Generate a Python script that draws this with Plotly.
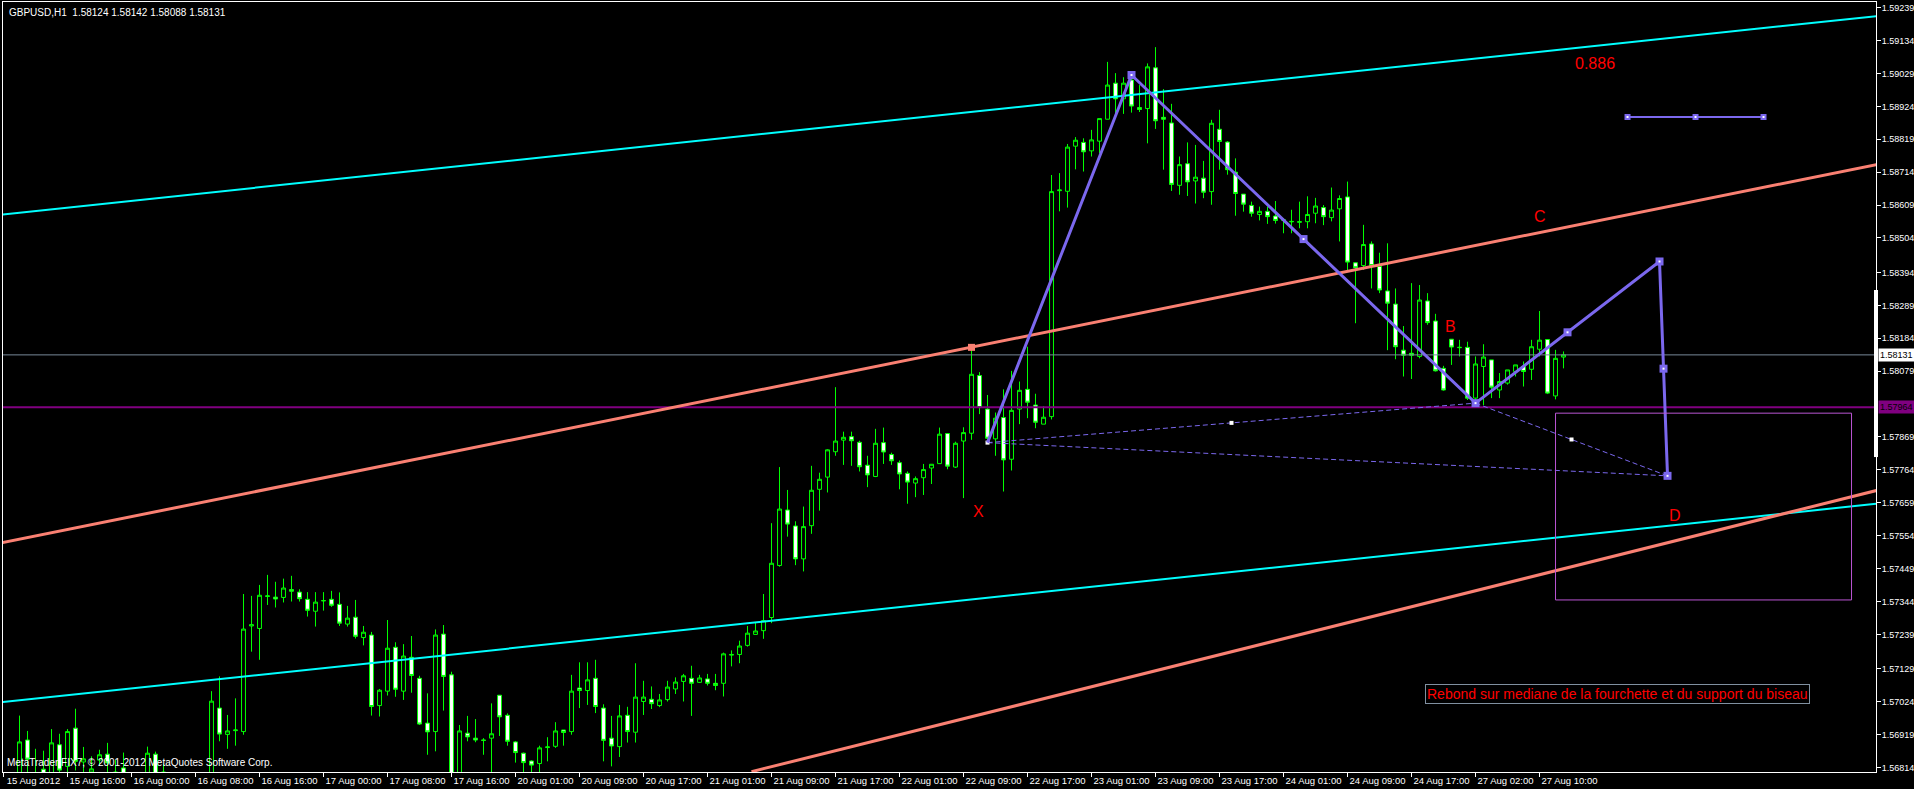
import plotly.graph_objects as go

# ---------------- data ----------------
chart_title = "GBPUSD,H1  1.58124 1.58142 1.58088 1.58131"
copyright_text = "MetaTrader FIX7, © 2001-2012 MetaQuotes Software Corp."
note_text = "Rebond sur mediane de la fourchette et du support du biseau"

ohlc_rows = [
    # open, high, low, close  (one row per H1 bar, index 0 = 15 Aug 2012 08:00)
    (1.56770, 1.56790, 1.56740, 1.56780), (1.56780, 1.56795, 1.56750, 1.56775),
    (1.56780, 1.56980, 1.56760, 1.56896), (1.56902, 1.56931, 1.56790, 1.56841),
    (1.56790, 1.56874, 1.56760, 1.56780), (1.56809, 1.56868, 1.56770, 1.56790),
    (1.56790, 1.56937, 1.56770, 1.56893), (1.56887, 1.56922, 1.56790, 1.56806),
    (1.56818, 1.56937, 1.56790, 1.56929), (1.56940, 1.57002, 1.56805, 1.56834),
    (1.56832, 1.56880, 1.56800, 1.56842), (1.56800, 1.56850, 1.56780, 1.56810),
    (1.56838, 1.56871, 1.56820, 1.56855), (1.56857, 1.56893, 1.56800, 1.56829),
    (1.56800, 1.56839, 1.56770, 1.56790), (1.56813, 1.56862, 1.56770, 1.56790),
    (1.56770, 1.56795, 1.56750, 1.56780), (1.56780, 1.56795, 1.56740, 1.56760),
    (1.56790, 1.56881, 1.56770, 1.56860), (1.56857, 1.56865, 1.56770, 1.56790),
    (1.56800, 1.56826, 1.56770, 1.56790), (1.56780, 1.56795, 1.56740, 1.56760),
    (1.56760, 1.56790, 1.56730, 1.56750), (1.56750, 1.56785, 1.56720, 1.56770),
    (1.56770, 1.56790, 1.56740, 1.56760), (1.56760, 1.56795, 1.56740, 1.56785),
    (1.56790, 1.57058, 1.56770, 1.57026), (1.57004, 1.57105, 1.56898, 1.56921),
    (1.56920, 1.56982, 1.56874, 1.56931), (1.56932, 1.57035, 1.56884, 1.56934),
    (1.56929, 1.57368, 1.56919, 1.57256), (1.57266, 1.57362, 1.57184, 1.57270),
    (1.57258, 1.57397, 1.57158, 1.57364), (1.57360, 1.57429, 1.57333, 1.57362),
    (1.57358, 1.57407, 1.57325, 1.57352), (1.57357, 1.57417, 1.57341, 1.57387),
    (1.57382, 1.57426, 1.57344, 1.57377), (1.57374, 1.57383, 1.57344, 1.57353),
    (1.57351, 1.57374, 1.57296, 1.57316), (1.57313, 1.57374, 1.57264, 1.57342),
    (1.57346, 1.57374, 1.57315, 1.57347), (1.57351, 1.57378, 1.57327, 1.57332),
    (1.57335, 1.57373, 1.57266, 1.57275), (1.57272, 1.57330, 1.57264, 1.57291),
    (1.57294, 1.57349, 1.57226, 1.57233), (1.57229, 1.57266, 1.57204, 1.57246),
    (1.57237, 1.57247, 1.56980, 1.57009), (1.57012, 1.57065, 1.56977, 1.57061),
    (1.57058, 1.57285, 1.57044, 1.57195), (1.57198, 1.57214, 1.57040, 1.57064),
    (1.57058, 1.57208, 1.57030, 1.57170), (1.57166, 1.57234, 1.57053, 1.57108),
    (1.57099, 1.57107, 1.56950, 1.56953), (1.56956, 1.57051, 1.56855, 1.56928),
    (1.56929, 1.57255, 1.56866, 1.57237), (1.57240, 1.57269, 1.56996, 1.57105),
    (1.57110, 1.57120, 1.56770, 1.56790), (1.56790, 1.56950, 1.56770, 1.56931),
    (1.56924, 1.56979, 1.56898, 1.56912), (1.56908, 1.56969, 1.56895, 1.56902),
    (1.56902, 1.56908, 1.56855, 1.56901), (1.56908, 1.57019, 1.56790, 1.56922),
    (1.57045, 1.57045, 1.56915, 1.56976), (1.56981, 1.56987, 1.56884, 1.56898),
    (1.56896, 1.56899, 1.56830, 1.56862), (1.56860, 1.56862, 1.56790, 1.56830),
    (1.56835, 1.56837, 1.56790, 1.56822), (1.56827, 1.56884, 1.56790, 1.56877),
    (1.56878, 1.56911, 1.56834, 1.56880), (1.56882, 1.56959, 1.56877, 1.56931),
    (1.56934, 1.56934, 1.56884, 1.56926), (1.56929, 1.57110, 1.56919, 1.57058),
    (1.57068, 1.57150, 1.57004, 1.57060), (1.57060, 1.57150, 1.57014, 1.57094),
    (1.57099, 1.57158, 1.56988, 1.57009), (1.57004, 1.57016, 1.56834, 1.56901),
    (1.56908, 1.56979, 1.56818, 1.56883), (1.56881, 1.57014, 1.56848, 1.56979),
    (1.56981, 1.57008, 1.56894, 1.56929), (1.56927, 1.57147, 1.56894, 1.57039),
    (1.57025, 1.57091, 1.56982, 1.57039), (1.57032, 1.57073, 1.57001, 1.57018),
    (1.57012, 1.57049, 1.57007, 1.57030), (1.57031, 1.57091, 1.57025, 1.57071),
    (1.57065, 1.57102, 1.57049, 1.57087), (1.57089, 1.57113, 1.57025, 1.57107),
    (1.57099, 1.57139, 1.56979, 1.57083), (1.57086, 1.57110, 1.57084, 1.57100),
    (1.57097, 1.57113, 1.57076, 1.57083), (1.57083, 1.57113, 1.57061, 1.57076),
    (1.57083, 1.57181, 1.57041, 1.57177), (1.57173, 1.57188, 1.57137, 1.57175),
    (1.57175, 1.57219, 1.57147, 1.57202), (1.57204, 1.57266, 1.57200, 1.57243),
    (1.57239, 1.57277, 1.57239, 1.57250), (1.57251, 1.57368, 1.57225, 1.57283),
    (1.57293, 1.57594, 1.57275, 1.57466), (1.57459, 1.57773, 1.57455, 1.57639),
    (1.57636, 1.57700, 1.57551, 1.57591), (1.57585, 1.57600, 1.57460, 1.57480),
    (1.57480, 1.57647, 1.57440, 1.57583), (1.57586, 1.57777, 1.57560, 1.57699),
    (1.57702, 1.57755, 1.57634, 1.57734), (1.57741, 1.57830, 1.57692, 1.57828),
    (1.57822, 1.58028, 1.57809, 1.57856), (1.57859, 1.57886, 1.57780, 1.57868),
    (1.57870, 1.57886, 1.57777, 1.57857), (1.57852, 1.57857, 1.57759, 1.57774),
    (1.57779, 1.57809, 1.57709, 1.57748), (1.57743, 1.57895, 1.57741, 1.57849),
    (1.57851, 1.57899, 1.57783, 1.57821), (1.57813, 1.57819, 1.57780, 1.57793),
    (1.57787, 1.57794, 1.57702, 1.57751), (1.57753, 1.57759, 1.57656, 1.57725),
    (1.57722, 1.57743, 1.57677, 1.57736), (1.57739, 1.57783, 1.57684, 1.57765),
    (1.57770, 1.57782, 1.57719, 1.57782), (1.57784, 1.57899, 1.57784, 1.57878),
    (1.57880, 1.57880, 1.57766, 1.57776), (1.57773, 1.57854, 1.57770, 1.57849),
    (1.57856, 1.57900, 1.57674, 1.57883), (1.57881, 1.58155, 1.57860, 1.58069),
    (1.58065, 1.58076, 1.57942, 1.57963), (1.57958, 1.58003, 1.57851, 1.57865),
    (1.57863, 1.57947, 1.57809, 1.57929), (1.57931, 1.58021, 1.57695, 1.57796),
    (1.57798, 1.58080, 1.57762, 1.57954), (1.57958, 1.58046, 1.57910, 1.58018),
    (1.58021, 1.58157, 1.57929, 1.57980), (1.57971, 1.58007, 1.57897, 1.57916),
    (1.57910, 1.57967, 1.57910, 1.57932), (1.57934, 1.58705, 1.57925, 1.58652),
    (1.58655, 1.58711, 1.58589, 1.58657), (1.58653, 1.58804, 1.58601, 1.58794),
    (1.58797, 1.58826, 1.58723, 1.58816), (1.58809, 1.58822, 1.58716, 1.58779),
    (1.58782, 1.58849, 1.58764, 1.58817), (1.58813, 1.58885, 1.58775, 1.58885),
    (1.58883, 1.59066, 1.58883, 1.58992), (1.58998, 1.59030, 1.58897, 1.58948),
    (1.58948, 1.59017, 1.58900, 1.58998), (1.59008, 1.59030, 1.58904, 1.58925),
    (1.58920, 1.58992, 1.58906, 1.58914), (1.58917, 1.59061, 1.58806, 1.59050),
    (1.59047, 1.59113, 1.58852, 1.58878), (1.58889, 1.58979, 1.58722, 1.58883),
    (1.58871, 1.58932, 1.58654, 1.58675), (1.58672, 1.58764, 1.58642, 1.58738),
    (1.58741, 1.58809, 1.58638, 1.58683), (1.58686, 1.58801, 1.58614, 1.58698),
    (1.58695, 1.58750, 1.58631, 1.58650), (1.58652, 1.58881, 1.58610, 1.58870),
    (1.58851, 1.58913, 1.58722, 1.58812), (1.58810, 1.58813, 1.58706, 1.58722),
    (1.58714, 1.58758, 1.58575, 1.58646), (1.58644, 1.58644, 1.58588, 1.58612),
    (1.58608, 1.58620, 1.58572, 1.58583), (1.58579, 1.58604, 1.58560, 1.58589),
    (1.58589, 1.58604, 1.58549, 1.58572), (1.58574, 1.58622, 1.58550, 1.58560),
    (1.58562, 1.58567, 1.58519, 1.58561), (1.58557, 1.58594, 1.58519, 1.58556),
    (1.58554, 1.58620, 1.58535, 1.58556), (1.58556, 1.58637, 1.58535, 1.58579),
    (1.58583, 1.58632, 1.58551, 1.58606), (1.58601, 1.58609, 1.58545, 1.58572),
    (1.58569, 1.58665, 1.58557, 1.58593), (1.58597, 1.58640, 1.58493, 1.58630),
    (1.58635, 1.58684, 1.58398, 1.58427), (1.58425, 1.58427, 1.58232, 1.58409),
    (1.58416, 1.58546, 1.58402, 1.58483), (1.58485, 1.58493, 1.58343, 1.58416),
    (1.58413, 1.58457, 1.58328, 1.58338), (1.58335, 1.58487, 1.58146, 1.58296),
    (1.58293, 1.58343, 1.58117, 1.58157), (1.58146, 1.58223, 1.58062, 1.58130),
    (1.58136, 1.58360, 1.58054, 1.58130), (1.58126, 1.58354, 1.58120, 1.58306),
    (1.58303, 1.58328, 1.58227, 1.58234), (1.58239, 1.58262, 1.58078, 1.58080),
    (1.58088, 1.58096, 1.58017, 1.58019), (1.58181, 1.58181, 1.58099, 1.58156),
    (1.58154, 1.58179, 1.58126, 1.58155), (1.58155, 1.58173, 1.57987, 1.57993),
    (1.57993, 1.58126, 1.57977, 1.58102), (1.58094, 1.58165, 1.57971, 1.58124),
    (1.58115, 1.58115, 1.57993, 1.58028), (1.58019, 1.58073, 1.57993, 1.58046),
    (1.58041, 1.58083, 1.58036, 1.58083), (1.58078, 1.58099, 1.58062, 1.58099),
    (1.58094, 1.58110, 1.58030, 1.58078), (1.58085, 1.58179, 1.58051, 1.58157),
    (1.58149, 1.58271, 1.58126, 1.58178), (1.58180, 1.58180, 1.58006, 1.58009),
    (1.58000, 1.58147, 1.57989, 1.58120), (1.58124, 1.58142, 1.58088, 1.58131),
]
bar_index = list(range(len(ohlc_rows)))
bar_open = [r[0] for r in ohlc_rows]
bar_high = [r[1] for r in ohlc_rows]
bar_low = [r[2] for r in ohlc_rows]
bar_close = [r[3] for r in ohlc_rows]

time_tick_index = list(range(0, 193, 8))
time_tick_labels = [
    "15 Aug 2012", "15 Aug 16:00", "16 Aug 00:00", "16 Aug 08:00", "16 Aug 16:00",
    "17 Aug 00:00", "17 Aug 08:00", "17 Aug 16:00", "20 Aug 01:00", "20 Aug 09:00",
    "20 Aug 17:00", "21 Aug 01:00", "21 Aug 09:00", "21 Aug 17:00", "22 Aug 01:00",
    "22 Aug 09:00", "22 Aug 17:00", "23 Aug 01:00", "23 Aug 09:00", "23 Aug 17:00",
    "24 Aug 01:00", "24 Aug 09:00", "24 Aug 17:00", "27 Aug 02:00", "27 Aug 10:00",
]
price_tick_values = [
    1.59239, 1.59134, 1.59029, 1.58924, 1.58819, 1.58714, 1.58609, 1.58504,
    1.58394, 1.58289, 1.58184, 1.58079, 1.57869, 1.57764, 1.57659, 1.57554,
    1.57449, 1.57344, 1.57239, 1.57129, 1.57024, 1.56919, 1.56814,
]
price_range = [1.56800, 1.59257]
index_range = [-0.0625, 234.06]

# channel / pitchfork lines: (bar index, price) at both chart edges
cyan_upper_line = [(-0.5, 1.58578), (234.1, 1.59212)]
cyan_lower_line = [(-0.5, 1.57022), (234.1, 1.57656)]
salmon_upper_line = [(-0.5, 1.57530), (234.1, 1.58738)]
salmon_lower_line = [(93.5, 1.56801), (234.1, 1.57698)]
salmon_anchor = (121, 1.58155)

bid_price = 1.58131
level_price = 1.57964

# XABCD harmonic pattern points
pattern_names = ["X", "A", "B", "C", "D"]
pattern_index = [123, 141, 184, 207, 208]
pattern_price = [1.57851, 1.59024, 1.57977, 1.58429, 1.57745]

fib_level_index = [203, 211.5, 220]
fib_level_price = [1.58890, 1.58890, 1.58890]

target_box_index = [194, 231]
target_box_price = [1.57349, 1.57945]

# text labels: (text, bar index, price)
red_labels = [("X", 121.9, 1.57630), ("B", 180.9, 1.58223), ("C", 192.0, 1.58572),
              ("D", 208.9, 1.57620), ("0.886", 198.9, 1.59060)]
note_position = (177.7, 1.57048)
scroll_marker_prices = [1.57805, 1.58338]

# ---------------- figure ----------------
PURPLE = "#7B68EE"
FONT = "Liberation Sans, Arial, sans-serif"
AXIS_FONT_SIZE = 9
fig = go.Figure()

fig.add_trace(go.Candlestick(
    x=bar_index, open=bar_open, high=bar_high, low=bar_low, close=bar_close,
    increasing=dict(fillcolor="#000000", line=dict(color="#00FF00", width=1)),
    decreasing=dict(fillcolor="#FFFFFF", line=dict(color="#00FF00", width=1)),
    whiskerwidth=0, showlegend=False, hoverinfo="skip",
))

def seg(points, color, width, dash="solid"):
    fig.add_trace(go.Scatter(x=[p[0] for p in points], y=[p[1] for p in points],
                             mode="lines", line=dict(color=color, width=width, dash=dash),
                             showlegend=False, hoverinfo="skip", cliponaxis=True))

# horizontal lines
fig.add_trace(go.Scatter(x=[index_range[0], index_range[1]], y=[bid_price, bid_price], mode="lines",
                         line=dict(color="#778899", width=1), showlegend=False, hoverinfo="skip"))
fig.add_trace(go.Scatter(x=[index_range[0], index_range[1]], y=[level_price, level_price], mode="lines",
                         line=dict(color="#800080", width=2), showlegend=False, hoverinfo="skip"))

seg(cyan_upper_line, "#00FFFF", 2)
seg(cyan_lower_line, "#00FFFF", 2)
seg(salmon_upper_line, "#FA8072", 3)
seg(salmon_lower_line, "#FA8072", 3)
fig.add_trace(go.Scatter(x=[salmon_anchor[0]], y=[salmon_anchor[1]], mode="markers",
                         marker=dict(symbol="square", size=7, color="#FA8072"),
                         showlegend=False, hoverinfo="skip"))

# dashed triangle X-B, X-D, B-D
pX = (pattern_index[0], pattern_price[0])
pB = (pattern_index[2], pattern_price[2])
pD = (pattern_index[4], pattern_price[4])
seg([pX, pB], PURPLE, 1, "5px,3px")
seg([pX, pD], PURPLE, 1, "5px,3px")
seg([pB, pD], PURPLE, 1, "5px,3px")
mid_xb = ((pX[0] + pB[0]) / 2, (pX[1] + pB[1]) / 2)
mid_bd = ((pB[0] + pD[0]) / 2, (pB[1] + pD[1]) / 2)
fig.add_trace(go.Scatter(x=[pX[0], mid_xb[0], mid_bd[0]], y=[pX[1], mid_xb[1], mid_bd[1]],
                         mode="markers", marker=dict(symbol="square", size=4, color="white"),
                         showlegend=False, hoverinfo="skip"))

# XABCD thick path
fig.add_trace(go.Scatter(x=pattern_index, y=pattern_price, mode="lines",
                         line=dict(color=PURPLE, width=3), showlegend=False, hoverinfo="skip"))
mk_x = pattern_index[1:]
mk_y = pattern_price[1:]
for i in range(1, 4):
    mk_x.append((pattern_index[i] + pattern_index[i + 1]) / 2)
    mk_y.append((pattern_price[i] + pattern_price[i + 1]) / 2)
fig.add_trace(go.Scatter(x=mk_x, y=mk_y, mode="markers",
                         marker=dict(symbol="square", size=8, color=PURPLE),
                         showlegend=False, hoverinfo="skip"))
fig.add_trace(go.Scatter(x=mk_x, y=mk_y, mode="markers",
                         marker=dict(symbol="square", size=2, color="white"),
                         showlegend=False, hoverinfo="skip"))

# short fibonacci level line
fig.add_trace(go.Scatter(x=fib_level_index, y=fib_level_price, mode="lines+markers",
                         line=dict(color=PURPLE, width=2),
                         marker=dict(symbol="square", size=6, color=PURPLE),
                         showlegend=False, hoverinfo="skip"))
fig.add_trace(go.Scatter(x=fib_level_index, y=fib_level_price, mode="markers",
                         marker=dict(symbol="square", size=2, color="white"),
                         showlegend=False, hoverinfo="skip"))

# target rectangle
fig.add_shape(type="rect", xref="x", yref="y",
              x0=target_box_index[0], x1=target_box_index[1],
              y0=target_box_price[0], y1=target_box_price[1],
              line=dict(color="#BA55D3", width=1), fillcolor="rgba(0,0,0,0)")

annotations = []
for txt, xi, yp in red_labels:
    annotations.append(dict(x=xi, y=yp, xref="x", yref="y", text=txt, showarrow=False,
                            font=dict(family=FONT, size=16, color="#FF0000")))
annotations.append(dict(x=note_position[0], y=note_position[1], xref="x", yref="y",
                        text=note_text, showarrow=False, xanchor="left", yanchor="middle",
                        font=dict(family=FONT, size=14, color="#FF0000"),
                        bordercolor="#8090A0", borderwidth=1, borderpad=1, bgcolor="#000000"))
annotations.append(dict(x=0, y=1, xref="paper", yref="paper", text=chart_title, showarrow=False,
                        xanchor="left", yanchor="top", xshift=4, yshift=-3,
                        font=dict(family=FONT, size=10, color="#FFFFFF")))
annotations.append(dict(x=0, y=0, xref="paper", yref="paper", text=copyright_text, showarrow=False,
                        xanchor="left", yanchor="bottom", xshift=2, yshift=2,
                        font=dict(family=FONT, size=10, color="#FFFFFF")))
annotations.append(dict(x=1, y=level_price, xref="paper", yref="y", text="1.57964", showarrow=False,
                        xanchor="left", yanchor="middle", xshift=2,
                        font=dict(family=FONT, size=AXIS_FONT_SIZE, color="#000000"),
                        bgcolor="#800080", borderpad=1))
annotations.append(dict(x=1, y=bid_price, xref="paper", yref="y", text="1.58131", showarrow=False,
                        xanchor="left", yanchor="middle", xshift=2,
                        font=dict(family=FONT, size=AXIS_FONT_SIZE, color="#000000"),
                        bgcolor="#FFFFFF", borderpad=1))

fig.add_shape(type="line", xref="paper", yref="y", x0=1, x1=1,
              y0=scroll_marker_prices[0], y1=scroll_marker_prices[1],
              line=dict(color="#FFFFFF", width=4))

fig.update_layout(
    template="none",
    width=1914, height=789,
    margin=dict(l=3, r=38, t=2, b=17, pad=0),
    paper_bgcolor="#000000", plot_bgcolor="#000000",
    showlegend=False, hovermode=False,
    annotations=annotations,
    xaxis=dict(range=index_range, showgrid=False, zeroline=False,
               tickmode="array", tickvals=time_tick_index, ticktext=time_tick_labels,
               ticks="outside", ticklen=4, tickcolor="#FFFFFF", tickwidth=1,
               tickfont=dict(family=FONT, size=9.5, color="#FFFFFF"),
               ticklabelshift=30, ticklabelstandoff=-4,
               showline=True, linecolor="#FFFFFF", linewidth=1, mirror=True,
               rangeslider=dict(visible=False), automargin=False, fixedrange=True),
    yaxis=dict(range=price_range, side="right", showgrid=False, zeroline=False,
               tickmode="array", tickvals=price_tick_values,
               ticktext=[f"{v:.5f}" for v in price_tick_values],
               ticks="outside", ticklen=4, tickcolor="#FFFFFF", tickwidth=1,
               tickfont=dict(family=FONT, size=AXIS_FONT_SIZE, color="#FFFFFF"),
               ticklabelstandoff=-1,
               showline=True, linecolor="#FFFFFF", linewidth=1, mirror=True,
               automargin=False, fixedrange=True),
)

fig.write_html("out.html", config={"displayModeBar": False})

# remove the default page margin so the 1914x789 figure fills the window exactly
with open("out.html", "r", encoding="utf-8") as fh:
    page = fh.read()
page = page.replace("<head>", "<head><style>html,body{margin:0;padding:0;overflow:hidden;background:#000;}</style>", 1)
with open("out.html", "w", encoding="utf-8") as fh:
    fh.write(page)
